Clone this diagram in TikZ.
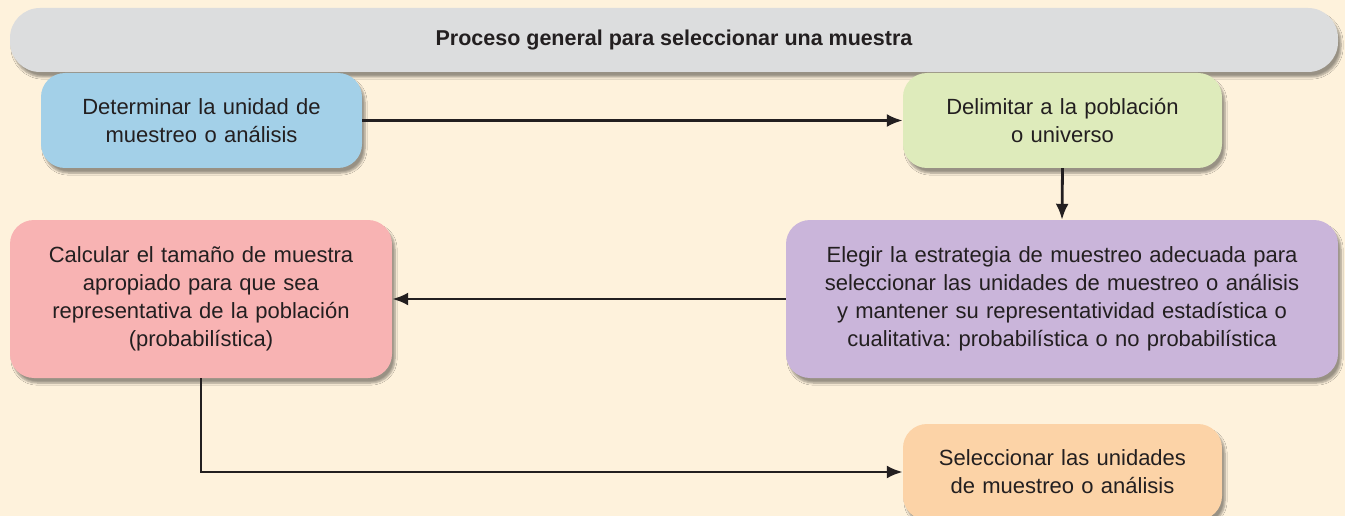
\documentclass[tikz,border=0pt]{standalone}
\usepackage{fontspec}
\setmainfont{Liberation Sans}
\usetikzlibrary{arrows.meta,shadows.blur}
\frenchspacing
\definecolor{bgc}{HTML}{FEF2DC}
\definecolor{txtc}{HTML}{231F20}
\definecolor{titlec}{HTML}{DCDDDE}
\definecolor{bluec}{HTML}{A3D0E8}
\definecolor{greenc}{HTML}{DEEBBB}
\definecolor{purplec}{HTML}{CAB5DA}
\definecolor{pinkc}{HTML}{F8B3B3}
\definecolor{orangec}{HTML}{FCD3A7}
\tikzset{
  boxstyle/.style={rounded corners=24pt, inner sep=0pt, align=center, text=txtc,
    font=\fontsize{22}{28}\selectfont,
    blur shadow={shadow xshift=3pt, shadow yshift=-5pt, shadow blur steps=6, shadow opacity=40}},
  arr/.style={draw=txtc, line width=2.8pt, -{Latex[length=16pt,width=13pt]}},
}
\begin{document}
\begin{tikzpicture}[x=1pt,y=-1pt]
\fill[bgc] (0,0) rectangle (1345,516);
\useasboundingbox (0,0) rectangle (1345,516);
\node[boxstyle, fill=titlec, rounded corners=30pt, minimum width=1328pt, minimum height=64pt,
  font=\bfseries\fontsize{21.5}{26}\selectfont] (title) at (674,40) {Proceso general para seleccionar una muestra};
\node[boxstyle, fill=bluec, minimum width=321pt, minimum height=95pt, text width=310pt] (blue) at (201.5,120.5)
  {Determinar la unidad de\\muestreo o análisis};
\node[boxstyle, fill=greenc, minimum width=319pt, minimum height=95pt, text width=310pt] (green) at (1062.5,120.5)
  {Delimitar a la población\\o universo};
\node[boxstyle, fill=purplec, minimum width=552pt, minimum height=158pt, text width=540pt] (purple) at (1062,299)
  {Elegir la estrategia de muestreo adecuada para\\seleccionar las unidades de muestreo o análisis\\y mantener su representatividad estadística o\\cualitativa: probabilística o no probabilística};
\node[boxstyle, fill=pinkc, minimum width=382pt, minimum height=158pt, text width=370pt] (pink) at (201,299)
  {Calcular el tamaño de muestra\\apropiado para que sea\\representativa de la población\\(probabilística)};
\node[boxstyle, fill=orangec, minimum width=319pt, minimum height=96pt, text width=310pt] (orange) at (1062.5,472)
  {Seleccionar las unidades\\de muestreo o análisis};
\draw[arr] (blue.east) -- (green.west);
\draw[arr] (green.south) -- (purple.north);
\draw[arr] (purple.west) -- (pink.east);
\draw[arr] (pink.south) |- (orange.west);
\end{tikzpicture}
\end{document}
